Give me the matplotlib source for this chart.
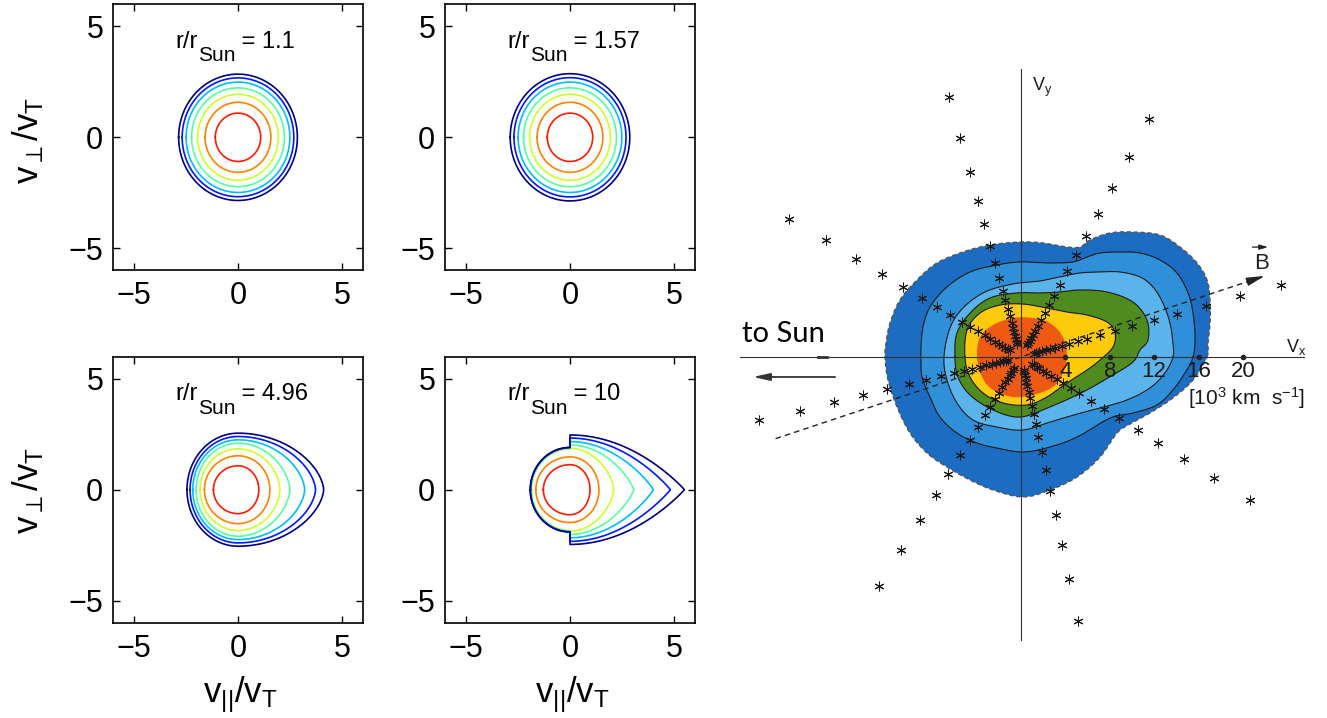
import numpy as np
import matplotlib
matplotlib.use("Agg")
import matplotlib.pyplot as plt
from matplotlib import transforms as mtransforms

plt.rcParams["font.family"] = ["Liberation Sans", "DejaVu Sans"]
plt.rcParams["mathtext.fontset"] = "custom"
plt.rcParams["mathtext.rm"] = "Liberation Sans"
plt.rcParams["mathtext.it"] = "Liberation Sans"
plt.rcParams["mathtext.bf"] = "Liberation Sans:bold"

# ---------------------------------------------------------------- model panels
panel_labels = ["1.1", "1.57", "4.96", "10"]
level_jet = [0.88, 0.77, 0.60, 0.45, 0.31, 0.15, 0.0]   # innermost -> outermost

# contour geometry per panel (one value per level, innermost first)
# rb: sunward radius, hb: half-height of sunward part, h: half-height at v_par=0+,
# rf: antisunward extent, q: exponent of antisunward flank
p1_rb = [1.09, 1.58, 1.94, 2.23, 2.49, 2.68, 2.85]
p1_hb = [1.09, 1.58, 1.94, 2.23, 2.49, 2.68, 2.85]
p1_h = [1.09, 1.58, 1.94, 2.23, 2.49, 2.68, 2.85]
p1_rf = [1.09, 1.58, 1.94, 2.23, 2.49, 2.68, 2.85]
p1_q = [0.5, 0.5, 0.5, 0.5, 0.5, 0.5, 0.5]

p2_rb = [1.09, 1.58, 1.94, 2.23, 2.49, 2.69, 2.87]
p2_hb = [1.09, 1.58, 1.94, 2.23, 2.49, 2.69, 2.87]
p2_h = [1.09, 1.58, 1.94, 2.23, 2.49, 2.69, 2.87]
p2_rf = [1.09, 1.58, 1.94, 2.23, 2.49, 2.69, 2.87]
p2_q = [0.5, 0.5, 0.5, 0.5, 0.5, 0.5, 0.5]

p3_rb = [1.18, 1.61, 1.82, 2.01, 2.17, 2.30, 2.45]
p3_hb = [1.08, 1.53, 1.84, 2.10, 2.25, 2.40, 2.55]
p3_h = [1.08, 1.53, 1.84, 2.10, 2.25, 2.40, 2.55]
p3_rf = [1.00, 1.53, 2.01, 2.49, 3.20, 3.72, 4.11]
p3_q = [0.5, 0.5, 0.55, 0.6, 0.6, 0.6, 0.6]

p4_rb = [1.28, 1.64, 1.84, 1.88, 1.89, 1.90, 1.91]
p4_hb = [1.13, 1.48, 1.84, 1.88, 1.89, 1.90, 1.91]
p4_h = [1.13, 1.48, 1.87, 2.02, 2.17, 2.33, 2.47]
p4_rf = [0.96, 1.39, 2.10, 3.06, 4.00, 4.82, 5.49]
p4_q = [0.5, 0.5, 0.65, 0.8, 0.9, 0.95, 0.95]

panel_geom = [
    (p1_rb, p1_hb, p1_h, p1_rf, p1_q),
    (p2_rb, p2_hb, p2_h, p2_rf, p2_q),
    (p3_rb, p3_hb, p3_h, p3_rf, p3_q),
    (p4_rb, p4_hb, p4_h, p4_rf, p4_q),
]

# ---------------------------------------------------------------- measured VDF
# boundaries of the shaded regions (10^3 km/s), outermost first
vdf1_x = [16.76, 16.85, 17.03, 17.03, 16.76, 15.86, 14.32, 12.52, 10.09, 8.02, 6.22, 5.32, 4.14,
          1.98, -0.09, -2.79, -5.23, -7.57, -9.37, -10.90, -11.80, -12.16, -12.25, -11.98,
          -11.17, -10.00, -8.47, -6.67, -4.59, -2.52, 0.18, 2.61, 5.05, 7.12, 8.65, 9.82,
          11.62, 13.69, 15.50]
vdf1_y = [0.0, 1.26, 3.06, 5.14, 6.94, 8.47, 9.91, 10.99, 11.26, 11.17, 10.54, 9.91, 9.91,
          10.27, 10.36, 10.09, 9.46, 8.47, 6.94, 5.14, 3.06, 1.26, 0.0, -2.07,
          -4.50, -6.85, -8.65, -9.91, -11.08, -11.98, -12.61, -11.98, -10.81, -9.01, -6.85, -6.04,
          -5.05, -3.69, -2.07]

vdf2_x = [15.50, 15.68, 15.50, 15.05, 14.05, 12.52, 10.72, 8.92, 7.12, 5.95, 4.68, 2.61, -0.09,
          -2.16, -4.59, -6.67, -8.20, -8.83, -9.01, -9.01, -8.92, -8.20, -7.30, -5.77, -3.96,
          -2.16, 0.18, 2.61, 5.05, 8.02, 10.09, 12.25, 13.69, 14.77]
vdf2_y = [0.0, 1.80, 3.96, 5.77, 7.57, 8.74, 9.37, 9.46, 9.37, 9.01, 8.56, 8.47, 8.56,
          8.29, 7.66, 6.31, 4.50, 2.70, 0.90, 0.0, -1.80, -3.60, -5.41, -6.85, -7.75,
          -8.20, -8.56, -8.11, -7.21, -5.50, -5.05, -4.32, -2.97, -1.44]

vdf3_x = [13.69, 13.69, 13.42, 12.79, 11.89, 10.72, 8.92, 7.12, 5.32, 3.51, 1.71, -0.72, -3.24,
          -5.23, -6.40, -6.94, -6.67, -5.77, -4.32, -2.16, 0.18, 2.61, 5.05, 7.12, 9.55,
          11.62, 12.97]
vdf3_y = [0.0, 1.26, 3.06, 4.86, 6.31, 7.21, 7.66, 7.66, 7.57, 7.21, 6.85, 6.58, 5.86,
          4.41, 2.61, 0.0, -2.07, -4.14, -5.68, -6.31, -6.58, -5.86, -5.14, -4.59, -3.87,
          -2.79, -1.44]

vdf4_x = [-5.95, -5.77, -4.59, -2.79, -0.36, 1.71, 3.51, 5.32, 7.75, 10.09, 11.35, 11.44, 10.72,
          10.09, 8.29, 5.59, 2.61, -0.09, -2.52, -4.59, -5.68]
vdf4_y = [0.0, 2.16, 3.96, 5.32, 5.77, 5.77, 5.86, 6.04, 5.86, 4.95, 3.33, 1.53, 0.63,
          -0.45, -1.62, -3.15, -4.50, -5.41, -4.77, -3.42, -1.80]

vdf5_x = [-5.05, -4.86, -3.69, -1.89, 0.18, 2.34, 4.14, 5.95, 7.75, 8.47, 8.29, 7.12, 5.95,
          4.14, 2.34, 0.54, -1.62, -3.42, -4.59]
vdf5_y = [0.0, 2.43, 3.96, 4.68, 4.77, 4.41, 4.05, 3.78, 3.15, 2.16, 0.90, -0.27, -1.17,
          -2.34, -3.60, -4.32, -4.14, -3.24, -1.80]

vdf6_x = [-3.96, -3.69, -2.52, -0.72, 1.08, 2.61, 3.78, 4.14, 3.78, 2.88, 1.08, -0.72, -2.52, -3.51]
vdf6_y = [0.0, 1.80, 2.88, 3.51, 3.51, 3.06, 1.80, 0.0, -1.44, -2.70, -3.42, -3.60, -2.97, -1.80]

vdf_colors = ["#1c6dc1", "#2f8fd8", "#5ab3ea", "#4f8b1f", "#fdcb0c", "#ee5a12"]

# look directions of the detector (deg) and energy-channel speeds (10^3 km/s)
ray_angles = [15.5, 61.7, 105.5, 149.2, 193.6, 238.2, 282.3, 328.0]
channel_speeds = [24.3, 20.5, 17.3, 14.6, 12.4, 10.4, 8.8, 7.4, 6.2, 5.3, 4.5, 3.8, 3.2,
                  2.7, 2.3, 1.95, 1.65, 1.4, 1.18]

vx_ticks = [4, 8, 12, 16, 20]
b_angle = 18.4

# ---------------------------------------------------------------- helpers
W, H = 1327, 718
fig = plt.figure(figsize=(W / 100, H / 100), dpi=100)
renderer = fig.canvas.get_renderer()


def contour_outline(rb, hb, h, rf, q, p=2.0):
    t = np.linspace(0.0, np.pi / 2, 80)
    bx = -rb * np.cos(t)
    by = hb * np.sin(t)
    u = np.linspace(0.0, np.pi / 2, 160)
    fx = rf * np.sin(u)
    fy = h * np.clip(1.0 - (fx / rf) ** p, 0, None) ** q
    ux = np.concatenate([bx, [0.0], fx])
    uy = np.concatenate([by, [h], fy])
    x = np.concatenate([ux, ux[::-1]])
    y = np.concatenate([uy, -uy[::-1]])
    return x, y


def smooth_closed(x, y, n=14):
    pts = np.column_stack([x, y])
    N = len(pts)
    t = np.linspace(0, 1, n, endpoint=False)[:, None]
    segs = []
    for i in range(N):
        p0, p1, p2, p3 = pts[i - 1], pts[i], pts[(i + 1) % N], pts[(i + 2) % N]
        segs.append(0.5 * (2 * p1 + (-p0 + p2) * t + (2 * p0 - 5 * p1 + 4 * p2 - p3) * t ** 2
                           + (-p0 + 3 * p1 - 3 * p2 + p3) * t ** 3))
    s = np.vstack(segs + [segs[0][:1]])
    return s[:, 0], s[:, 1]


def radius_label(ax, value):
    x0, y0 = -3.0, 4.05
    fs_main, fs_sub = 17, 15
    t1 = ax.text(x0, y0, "r/r", fontsize=fs_main, ha="left", va="baseline")
    w1 = t1.get_window_extent(renderer).width * 72 / fig.dpi
    tr2 = mtransforms.offset_copy(ax.transData, fig=fig, x=w1, y=-10, units="points")
    t2 = ax.text(x0, y0, "Sun", fontsize=fs_sub, ha="left", va="baseline", transform=tr2)
    w2 = t2.get_window_extent(renderer).width * 72 / fig.dpi
    tr3 = mtransforms.offset_copy(ax.transData, fig=fig, x=w1 + w2, y=0, units="points")
    ax.text(x0, y0, " = " + value, fontsize=fs_main, ha="left", va="baseline", transform=tr3)


# ---------------------------------------------------------------- left block
cmap = plt.get_cmap("jet")
ax_w, ax_h = 250 / W, 266 / H
positions = [(113 / W, 1 - 270.3 / H), (445 / W, 1 - 270.3 / H),
             (113 / W, 1 - 622.7 / H), (445 / W, 1 - 622.7 / H)]

for k, (pos, lab, geom) in enumerate(zip(positions, panel_labels, panel_geom)):
    ax = fig.add_axes([pos[0], pos[1], ax_w, ax_h])
    rb, hb, h, rf, q = geom
    for i in range(len(rb)):
        x, y = contour_outline(rb[i], hb[i], h[i], rf[i], q[i])
        ax.plot(x, y, color=cmap(level_jet[i]), lw=1.2)
    ax.set_xlim(-6, 6)
    ax.set_ylim(-6, 6)
    ax.set_xticks([-5, 0, 5])
    ax.set_yticks([-5, 0, 5])
    ax.tick_params(direction="in", top=True, right=True, length=5, width=1,
                   labelsize=22)
    ax.tick_params(axis="x", pad=8)
    ax.tick_params(axis="y", pad=7)
    for s in ax.spines.values():
        s.set_linewidth(1.2)
    radius_label(ax, lab)

ylab = r"v$_{\perp}$/v$_\mathregular{T}$"
xlab = r"v$_{||}$/v$_\mathregular{T}$"
fig.text(28 / W, 1 - 140 / H, ylab, rotation=90, fontsize=25, ha="center", va="center")
fig.text(28 / W, 1 - 490 / H, ylab, rotation=90, fontsize=25, ha="center", va="center")
fig.text(240 / W, 1 - 695 / H, xlab, fontsize=25, ha="center", va="center")
fig.text(572 / W, 1 - 695 / H, xlab, fontsize=25, ha="center", va="center")

# ---------------------------------------------------------------- right block
ax = fig.add_axes([700 / W, 0, 627 / W, 1])
ax.set_xlim(-28.92, 27.57)
ax.set_ylim(-32.52, 32.16)
ax.axis("off")

vdf_edges = [(vdf1_x, vdf1_y), (vdf2_x, vdf2_y), (vdf3_x, vdf3_y),
             (vdf4_x, vdf4_y), (vdf5_x, vdf5_y), (vdf6_x, vdf6_y)]
for i, ((ex, ey), col) in enumerate(zip(vdf_edges, vdf_colors)):
    sx, sy = smooth_closed(ex, ey)
    ax.fill(sx, sy, color=col, lw=0, zorder=1 + i)
    if i == 0:
        ax.plot(sx, sy, color="#555555", lw=1.0, ls=(0, (3, 2)), zorder=1.5)
    elif i <= 4:
        ax.plot(sx, sy, color="#1a1a1a", lw=0.8, zorder=1.5 + i)

# coordinate axes
ax.plot([-25.3, 25.5], [0, 0], color="#333333", lw=0.8, zorder=10)
ax.plot([0, 0], [-25.5, 25.9], color="#333333", lw=0.8, zorder=10)
ax.plot(vx_ticks, [0] * len(vx_ticks), "o", color="#222222", ms=3, zorder=11)
ax.plot([-18.3, -17.5], [0, 0], color="#333333", lw=2, zorder=11)
for v in vx_ticks:
    ax.text(v, -0.4, str(v), fontsize=16, ha="center", va="top", color="#1a1a1a", zorder=12)
ax.text(20.3, -3.7, r"[10$^3$ km  s$^{-1}$]", fontsize=15, ha="center", va="center",
        color="#1a1a1a")
ax.text(23.9, 0.9, r"V$_\mathregular{x}$", fontsize=13, ha="left", va="center", color="#1a1a1a")
ax.text(1.0, 24.3, r"V$_\mathregular{y}$", fontsize=13, ha="left", va="center", color="#1a1a1a")

# magnetic field direction
ca, sa = np.cos(np.radians(b_angle)), np.sin(np.radians(b_angle))
ax.plot([-23.3 * ca, 21.6 * ca], [-23.3 * sa, 21.6 * sa], color="#222222", lw=1.0,
        ls=(0, (4, 3)), zorder=9)
ax.annotate("", xy=(23.4 * ca, 23.4 * sa), xytext=(21.4 * ca, 21.4 * sa),
            arrowprops=dict(arrowstyle="-|>,head_length=1.1,head_width=0.25", color="#222222",
                            lw=1.0), zorder=12)
ax.text(21.7, 8.4, "B", fontsize=16, ha="center", va="center", color="#222222")
ax.annotate("", xy=(22.5, 9.9), xytext=(20.6, 9.9),
            arrowprops=dict(arrowstyle="-|>,head_length=0.5,head_width=0.15", color="#222222",
                            lw=0.9))

# sunward direction
ax.annotate("", xy=(-24.4, -1.8), xytext=(-16.5, -1.8),
            arrowprops=dict(arrowstyle="-|>,head_length=1.0,head_width=0.22", color="#333333",
                            lw=1.3))
ax.text(-25.1, 1.35, "to Sun", fontsize=21, family="Lato", ha="left", va="baseline")

# energy channels along each look direction
sp = np.array(channel_speeds)
for ang in ray_angles:
    a = np.radians(ang)
    ax.plot(sp * np.cos(a), sp * np.sin(a), ls="none", marker=(6, 2, 0), ms=7, mew=0.75,
            color="#1a1a1a", zorder=13)

fig.savefig("out.png", dpi=100)
